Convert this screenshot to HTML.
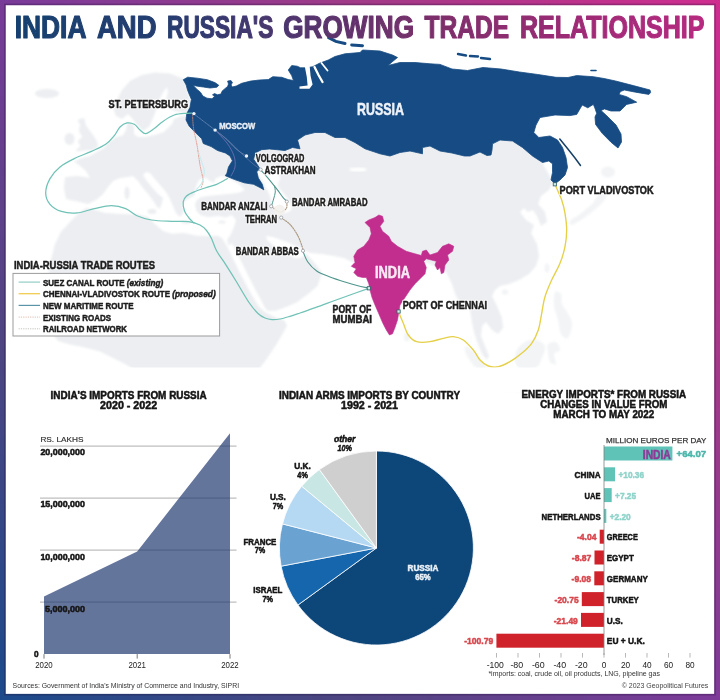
<!DOCTYPE html>
<html><head><meta charset="utf-8"><title>India and Russia's Growing Trade Relationship</title>
<style>
html,body{margin:0;padding:0;background:#fff;}
body{width:720px;height:700px;overflow:hidden;font-family:"Liberation Sans",sans-serif;}
svg{display:block;font-family:"Liberation Sans",sans-serif;}
</style></head><body>
<svg width="720" height="700" viewBox="0 0 720 700">
<defs>
<linearGradient id="gb" gradientUnits="userSpaceOnUse" x1="0" y1="700" x2="720" y2="0">
<stop offset="0" stop-color="#1b4a8b"/>
<stop offset="0.245" stop-color="#4d4581"/>
<stop offset="0.5" stop-color="#7b3b98"/>
<stop offset="0.745" stop-color="#a23a87"/>
<stop offset="1" stop-color="#cf2d8f"/>
</linearGradient>
<linearGradient id="gt" gradientUnits="userSpaceOnUse" x1="15" y1="0" x2="705" y2="0">
<stop offset="0" stop-color="#16416f"/>
<stop offset="0.22" stop-color="#263c70"/>
<stop offset="0.42" stop-color="#54356d"/>
<stop offset="0.62" stop-color="#7e2e6b"/>
<stop offset="0.8" stop-color="#9c2c75"/>
<stop offset="1" stop-color="#b62b80"/>
</linearGradient>
<filter id="blur1" x="-5%" y="-5%" width="110%" height="110%"><feGaussianBlur stdDeviation="0.9"/></filter>
<filter id="blur2" x="-5%" y="-5%" width="110%" height="110%"><feGaussianBlur stdDeviation="0.45"/></filter>
<filter id="soft" x="0" y="0" width="720" height="700" filterUnits="userSpaceOnUse"><feGaussianBlur stdDeviation="0.5"/></filter>
</defs>
<rect x="0" y="0" width="720" height="700" fill="url(#gb)"/>
<rect x="5.7" y="5.2" width="708.5" height="688.7" fill="#ffffff"/>
<rect x="4.9" y="4.4" width="710.1" height="690.3" fill="none" stroke="#1a0a30" stroke-opacity="0.27" stroke-width="1.6"/>
<g filter="url(#soft)">
<g id="land" fill="#eceef1" stroke="none" filter="url(#blur1)">
<ellipse cx="47" cy="93.5" rx="12" ry="4.6"/>
<path d="M78.0 120.0C78.7 118.9 82.7 117.7 84.0 118.5C85.3 119.3 85.0 122.9 86.0 125.0C87.0 127.1 88.5 128.8 90.0 131.0C91.5 133.2 93.7 135.7 95.0 138.0C96.3 140.3 98.2 143.1 98.0 145.0C97.8 146.9 96.3 148.6 94.0 149.5C91.7 150.4 87.0 150.2 84.0 150.5C81.0 150.8 76.7 151.8 76.0 151.0C75.3 150.2 79.7 147.7 80.0 146.0C80.3 144.3 77.7 142.5 78.0 141.0C78.3 139.5 81.8 138.7 82.0 137.0C82.2 135.3 79.3 133.0 79.0 131.0C78.7 129.0 80.2 126.8 80.0 125.0C79.8 123.2 77.3 121.1 78.0 120.0Z"/>
<ellipse cx="69.5" cy="139" rx="5" ry="6"/>
<polygon points="117.0,100.0 122.0,90.0 130.0,81.0 142.0,75.0 155.0,72.5 170.0,73.5 184.0,79.0 190.0,100.0 300.0,110.0 530.0,140.0 553.0,182.0 549.0,190.0 541.0,196.0 538.0,204.0 545.0,212.0 547.0,222.0 541.0,226.0 537.0,216.0 533.0,210.0 528.0,212.0 524.0,208.0 520.0,212.0 526.0,220.0 534.0,225.0 531.0,233.0 537.0,244.0 539.0,256.0 536.0,266.0 529.0,274.0 519.0,280.0 509.0,284.0 500.0,286.0 495.0,290.0 492.0,296.0 497.0,306.0 502.0,318.0 503.0,328.0 498.0,334.0 492.0,330.0 486.0,322.0 482.0,326.0 481.0,336.0 485.0,346.0 489.0,356.0 487.0,360.0 482.0,354.0 478.0,344.0 474.0,332.0 472.0,322.0 470.0,310.0 466.0,300.0 462.0,306.0 456.0,296.0 452.0,284.0 447.0,274.0 444.0,270.0 425.0,262.0 380.0,250.0 358.0,265.0 352.0,262.0 344.0,258.0 334.0,256.0 322.0,254.0 310.0,253.0 304.0,250.0 297.0,247.0 289.0,243.0 281.0,240.0 273.0,237.0 266.0,236.0 267.0,240.0 273.0,245.0 280.0,250.0 288.0,255.0 296.0,258.5 302.0,257.5 306.0,253.5 312.0,260.0 318.0,267.0 322.0,273.0 317.5,286.0 308.0,294.0 296.7,302.5 286.0,307.0 275.8,310.8 268.0,311.0 265.0,308.0 260.0,298.0 255.0,289.0 249.0,277.0 243.0,265.0 238.0,255.0 234.0,247.0 232.0,243.0 229.0,246.0 227.0,240.0 231.0,234.0 234.0,227.0 236.0,220.0 232.0,215.0 226.0,217.5 218.0,216.0 208.0,217.0 200.0,215.0 196.0,210.0 195.0,204.0 197.0,200.0 200.0,197.5 208.0,196.0 218.0,195.0 228.0,194.0 238.0,193.0 245.0,190.0 240.0,185.0 234.0,181.0 228.0,178.0 222.0,176.0 216.0,178.0 214.0,183.0 210.0,181.0 206.0,178.0 200.0,179.0 197.0,184.0 195.0,190.0 195.0,195.0 191.0,197.5 186.0,200.0 182.0,205.0 184.0,212.0 180.0,217.0 176.0,213.0 173.0,206.0 170.0,199.0 166.0,192.0 160.0,185.0 154.0,178.0 150.0,173.0 146.0,172.0 143.0,175.0 146.0,180.0 151.0,186.0 157.0,193.0 163.0,198.0 162.0,203.0 160.0,208.5 157.0,207.0 154.0,202.0 149.0,195.0 143.0,188.0 138.0,181.0 133.0,176.0 128.0,177.0 120.0,178.0 113.0,181.0 108.0,187.0 103.0,194.0 96.0,200.0 88.0,204.0 80.0,202.0 66.0,199.0 64.0,188.0 65.0,177.0 78.0,176.0 90.0,178.0 86.0,171.0 79.0,165.0 74.0,161.5 82.0,158.0 90.0,156.0 97.0,152.0 104.0,148.0 109.0,142.0 116.0,137.0 123.0,135.5 126.0,130.0 127.0,124.0 131.0,122.5 134.0,127.0 134.0,134.0 138.0,137.0 145.0,137.0 155.0,135.0 164.0,132.0 168.0,128.0 172.0,124.0 174.0,119.0 180.0,116.5 188.0,114.5 188.0,113.0 182.0,112.5 174.0,111.0 167.0,107.0 166.0,100.0 168.0,92.0 167.0,87.0 164.0,91.0 160.0,98.0 157.0,108.0 153.0,118.0 149.0,127.0 143.0,131.0 136.0,124.0 132.0,118.0 128.0,114.0 122.0,119.0 116.0,116.0 113.0,108.0"/>
<polygon points="61.0,231.7 70.0,222.0 78.0,214.0 86.0,208.0 92.0,209.0 105.0,213.0 122.0,214.0 138.0,214.5 148.0,217.0 155.0,224.0 163.0,231.0 171.7,233.8 184.0,233.0 196.7,235.8 208.0,236.0 217.5,235.8 222.0,238.0 225.8,244.0 230.0,252.0 234.0,260.8 240.0,273.0 246.7,285.8 253.0,297.0 259.0,306.7 265.0,312.0 271.7,315.5 278.0,318.5 284.0,320.0 287.0,325.5 282.5,334.0 276.0,345.0 267.0,358.5 260.0,367.8 258.0,380.0 140.0,380.0 135.0,370.0 125.0,364.0 112.0,357.5 100.0,351.5 85.0,347.5 70.0,344.5 58.0,341.0 52.0,333.0 48.0,321.0 46.0,305.0 46.0,290.0 48.0,276.0 50.8,260.8 55.0,244.0"/>
<ellipse cx="127" cy="193" rx="2.6" ry="6.5"/>
<ellipse cx="152" cy="211.5" rx="4.5" ry="2.4"/>
<ellipse cx="186" cy="222" rx="5" ry="1.6"/>
<ellipse cx="222" cy="222" rx="3.5" ry="1.6"/>
<g opacity="0.65">
<path d="M603.0 186.0C604.7 185.2 607.5 188.0 608.0 190.0C608.5 192.0 607.3 195.5 606.0 198.0C604.7 200.5 602.3 202.7 600.0 205.0C597.7 207.3 594.7 209.8 592.0 212.0C589.3 214.2 586.7 216.2 584.0 218.0C581.3 219.8 578.2 221.8 576.0 223.0C573.8 224.2 572.0 225.3 571.0 225.0C570.0 224.7 569.0 222.5 570.0 221.0C571.0 219.5 574.5 217.8 577.0 216.0C579.5 214.2 582.3 212.2 585.0 210.0C587.7 207.8 590.8 205.5 593.0 203.0C595.2 200.5 596.3 197.8 598.0 195.0C599.7 192.2 601.3 186.8 603.0 186.0Z"/>
<ellipse cx="608" cy="172" rx="7" ry="5.5"/>
<ellipse cx="547" cy="268" rx="2.4" ry="4.5"/>
<ellipse cx="505" cy="292" rx="3.5" ry="2.6"/>
<ellipse cx="407" cy="337" rx="3" ry="4.5"/>
<path d="M555.0 292.0C556.2 290.0 559.8 292.0 561.0 294.0C562.2 296.0 561.0 301.0 562.0 304.0C563.0 307.0 565.3 308.7 567.0 312.0C568.7 315.3 571.8 319.7 572.0 324.0C572.2 328.3 569.8 336.3 568.0 338.0C566.2 339.7 562.7 337.0 561.0 334.0C559.3 331.0 559.2 324.7 558.0 320.0C556.8 315.3 554.5 310.7 554.0 306.0C553.5 301.3 553.8 294.0 555.0 292.0Z"/>
<path d="M517.0 350.0C518.7 346.7 521.8 343.7 525.0 342.0C528.2 340.3 532.7 339.3 536.0 340.0C539.3 340.7 544.0 343.0 545.0 346.0C546.0 349.0 543.5 354.3 542.0 358.0C540.5 361.7 539.3 366.0 536.0 368.0C532.7 370.0 525.5 371.0 522.0 370.0C518.5 369.0 515.8 365.3 515.0 362.0C514.2 358.7 515.3 353.3 517.0 350.0Z"/>
<path d="M466.0 346.0C467.3 345.7 471.0 349.0 474.0 352.0C477.0 355.0 480.7 360.0 484.0 364.0C487.3 368.0 491.3 372.7 494.0 376.0C496.7 379.3 500.0 382.3 500.0 384.0C500.0 385.7 496.7 387.0 494.0 386.0C491.3 385.0 487.3 381.3 484.0 378.0C480.7 374.7 477.0 370.0 474.0 366.0C471.0 362.0 467.3 357.3 466.0 354.0C464.7 350.7 464.7 346.3 466.0 346.0Z"/>
<path d="M502.0 384.0C505.0 383.3 513.7 385.0 520.0 386.0C526.3 387.0 536.7 388.7 540.0 390.0C543.3 391.3 543.3 393.7 540.0 394.0C536.7 394.3 526.3 392.7 520.0 392.0C513.7 391.3 505.0 391.3 502.0 390.0C499.0 388.7 499.0 384.7 502.0 384.0Z"/>
<path d="M548.0 344.0C549.3 342.3 554.0 341.0 556.0 342.0C558.0 343.0 560.3 348.0 560.0 350.0C559.7 352.0 554.7 351.7 554.0 354.0C553.3 356.3 556.7 362.7 556.0 364.0C555.3 365.3 551.3 364.0 550.0 362.0C548.7 360.0 548.3 355.0 548.0 352.0C547.7 349.0 546.7 345.7 548.0 344.0Z"/>
</g>
</g>
<path d="M256.0 170.0C256.7 167.8 262.7 167.0 266.0 167.0C269.3 167.0 273.7 168.2 276.0 170.0C278.3 171.8 279.7 175.3 280.0 178.0C280.3 180.7 277.3 183.3 278.0 186.0C278.7 188.7 282.0 191.3 284.0 194.0C286.0 196.7 288.8 199.3 290.0 202.0C291.2 204.7 292.0 208.2 291.0 210.0C290.0 211.8 286.5 212.8 284.0 213.0C281.5 213.2 278.0 212.5 276.0 211.0C274.0 209.5 273.0 206.5 272.0 204.0C271.0 201.5 271.0 198.7 270.0 196.0C269.0 193.3 267.3 190.7 266.0 188.0C264.7 185.3 263.7 183.0 262.0 180.0C260.3 177.0 255.3 172.2 256.0 170.0Z" fill="#fff" filter="url(#blur1)"/>
<ellipse cx="358" cy="169.5" rx="9" ry="2" fill="#fff" filter="url(#blur1)"/>
<g filter="url(#blur2)">
<polygon points="183.3,79.7 187.7,77.2 197.4,78.2 207.2,79.7 214.9,82.6 218.8,85.3 216.9,87.2 210.0,88.0 203.3,87.0 197.4,86.2 193.0,85.3 196.8,89.2 200.6,92.4 202.8,96.0 207.0,98.2 212.0,98.8 214.5,96.6 212.5,94.8 214.5,93.6 217.5,94.8 221.0,94.0 222.0,91.3 224.6,88.9 227.6,86.5 228.5,84.0 227.6,81.1 231.0,80.6 232.4,82.6 231.0,85.0 232.4,87.0 236.3,86.0 241.7,83.3 250.6,81.1 259.4,80.0 268.3,79.6 272.8,76.7 281.7,77.3 288.3,79.6 293.5,80.5 291.7,75.6 288.3,70.0 291.7,65.6 297.2,66.2 300.6,67.8 306.0,67.8 312.8,66.7 319.4,63.3 328.3,60.0 335.0,56.5 345.0,53.8 360.0,52.5 362.5,50.0 380.0,51.0 392.5,55.0 397.5,57.5 392.0,62.0 388.0,65.5 396.0,63.5 400.0,62.5 415.0,62.5 430.0,63.8 440.0,64.4 452.0,69.0 467.5,70.5 483.0,67.5 501.0,69.0 519.4,72.0 537.8,74.5 556.0,77.3 568.0,77.5 576.7,75.6 593.3,76.7 604.0,78.5 615.6,81.0 633.3,85.6 650.0,90.0 650.6,92.5 648.9,94.4 635.6,92.2 624.4,90.0 620.5,91.5 618.9,94.4 626.7,96.7 636.7,102.2 626.7,104.4 620.0,111.0 611.0,111.0 604.4,108.9 601.0,110.5 607.0,116.0 616.0,125.0 621.0,134.0 621.5,142.0 618.0,148.0 611.0,142.2 602.2,133.3 595.6,124.4 595.0,117.0 596.7,113.3 594.5,107.0 593.3,104.4 587.8,107.8 582.2,105.0 576.7,114.4 570.0,115.6 555.0,115.0 540.0,117.5 536.0,125.0 533.8,132.5 538.8,137.5 550.0,136.0 557.5,140.0 562.5,147.5 566.0,157.5 567.5,167.5 565.0,175.0 560.0,180.0 555.0,183.8 551.0,180.0 552.5,172.5 552.5,163.8 548.8,161.0 542.5,162.5 532.5,156.0 522.5,147.5 512.5,141.0 500.0,140.0 492.5,143.8 492.0,150.0 491.0,155.0 487.0,155.5 480.0,152.0 470.0,156.0 464.4,156.0 452.0,153.0 440.0,151.0 430.0,146.0 422.5,147.5 422.5,153.8 410.0,151.0 400.0,152.5 390.0,156.0 380.0,153.8 365.0,148.8 355.0,142.5 345.0,137.5 335.0,137.5 325.0,132.5 315.0,132.5 305.0,135.0 297.5,140.0 300.0,148.8 292.5,147.5 285.0,150.5 277.2,149.7 269.3,149.0 261.5,149.7 255.2,152.9 253.6,159.2 256.8,163.9 259.9,168.6 256.8,171.8 258.3,178.0 262.3,184.3 263.8,189.8 259.9,187.5 253.6,184.3 244.2,182.8 234.7,179.6 225.3,175.7 226.9,173.3 228.5,167.0 232.4,160.8 230.0,156.0 225.3,152.9 217.5,150.5 211.2,146.6 203.3,143.5 201.7,138.7 195.4,132.5 189.2,126.2 186.0,119.9 186.8,113.6 190.0,107.3 191.4,99.4 189.5,95.0 187.5,90.0 186.2,85.0" fill="#154b83" stroke="#154b83" stroke-width="0.8" stroke-linejoin="round"/>
<path d="M328.6 37.6L335.8 41.4L345 43.5M351.7 44.9L362.5 45.7" stroke="#154b83" stroke-width="3" fill="none" stroke-linecap="round"/>
<path d="M458 54l8 1.5M470 56l8 0.5M481 58l9 1" stroke="#154b83" stroke-width="2.4" fill="none" stroke-linecap="round"/>
<path d="M591 70.5l5 0" stroke="#154b83" stroke-width="1.6" fill="none" stroke-linecap="round"/>
<path d="M559.8 139L567.5 148.5L575 158L580.5 165.5" stroke="#173f66" stroke-width="1.5" fill="none" stroke-linecap="round"/>
<polygon points="304.6,65.5 309.6,65.5 310.6,76 312.6,84.5 309.5,88.8 299.5,88.8 299.5,86.4 307.6,85.6 306.8,77" fill="#fff"/>
<path d="M314.5 67L318.5 75L322.5 82" stroke="#fff" stroke-width="2.3" fill="none" stroke-linecap="round"/>
<path d="M321.5 63L327.5 70.5" stroke="#fff" stroke-width="1.8" fill="none" stroke-linecap="round"/>
</g>
<g filter="url(#blur2)">
<polygon points="378.8,215.0 382.5,216.3 383.8,221.3 380.0,226.3 382.5,231.3 388.8,236.3 391.3,241.3 397.5,246.3 406.3,251.3 415.0,253.8 421.3,255.5 422.5,251.3 426.3,250.0 430.0,255.0 437.5,252.5 442.5,246.3 448.8,243.8 453.8,246.3 452.5,251.3 447.5,255.0 448.8,260.0 445.0,265.0 443.8,272.5 441.3,273.8 440.0,267.5 437.5,270.0 435.0,265.0 436.3,261.3 431.3,260.0 426.3,258.8 423.8,261.3 426.3,267.5 425.0,273.8 420.0,278.8 415.0,283.8 410.0,290.0 405.0,297.5 400.0,305.0 398.8,312.5 397.5,320.0 395.0,327.5 392.5,333.8 389.5,335.0 386.3,330.0 382.5,322.5 378.8,313.8 375.0,305.0 372.0,297.5 370.0,290.0 368.8,283.8 366.3,277.5 362.5,277.5 357.5,276.3 353.8,272.5 356.3,268.8 351.3,266.3 355.0,262.5 353.8,256.3 357.5,250.0 363.8,246.3 368.8,240.0 371.3,233.8 370.0,227.5 365.0,222.5 368.8,220.0 375.0,217.5" fill="#c12f8e" stroke="#c12f8e" stroke-width="0.6" stroke-linejoin="round"/>
</g>
<g fill="none" stroke-linecap="round" stroke-linejoin="round">
<path d="M191.5 113.0C190.7 113.0 189.6 113.0 186.7 113.3C183.8 113.6 178.3 113.7 174.3 115.0C170.3 116.3 166.2 119.1 162.9 121.4C159.6 123.7 157.2 126.5 154.3 128.6C151.4 130.6 148.1 133.5 145.7 133.7C143.3 133.9 141.9 131.6 140.0 130.0C138.1 128.4 136.5 125.5 134.3 124.3C132.1 123.1 129.4 122.5 127.0 122.9C124.6 123.4 122.1 124.9 120.0 127.0C117.9 129.1 116.7 132.8 114.3 135.7C111.9 138.6 109.5 141.7 105.7 144.3C101.9 146.9 96.6 149.0 91.4 151.4C86.2 153.8 79.5 156.0 74.3 158.6C69.1 161.2 64.0 163.7 60.0 167.0C56.0 170.3 52.4 174.3 50.0 178.6C47.6 182.9 45.7 188.6 45.7 192.9C45.7 197.2 47.4 201.2 50.0 204.3C52.6 207.4 56.9 210.0 61.4 211.4C65.9 212.8 71.5 213.4 77.0 212.9C82.5 212.4 88.6 209.8 94.3 208.6C100.0 207.4 106.2 205.7 111.4 205.7C116.6 205.7 121.4 206.9 125.7 208.6C130.0 210.3 132.7 213.8 137.0 215.7C141.3 217.6 145.7 219.1 151.4 220.0C157.1 220.9 165.2 221.1 171.4 221.4C177.6 221.7 183.8 221.0 188.6 221.6C193.4 222.2 197.0 223.5 200.0 225.0C203.0 226.5 204.6 228.2 206.5 230.5C208.4 232.8 209.8 235.1 211.5 238.5C213.2 241.9 214.3 246.7 216.7 251.0C219.0 255.3 222.4 259.4 225.6 264.4C228.8 269.4 232.1 274.6 236.0 281.0C239.9 287.4 245.3 297.1 249.0 302.5C252.7 307.9 255.3 310.9 258.0 313.5C260.7 316.1 262.7 317.0 265.0 318.0C267.3 319.0 269.5 319.4 272.0 319.6C274.5 319.8 277.2 319.5 280.0 319.0C282.8 318.5 285.7 317.6 289.0 316.6C292.3 315.6 295.5 314.5 300.0 313.0C304.5 311.5 310.4 309.4 316.0 307.4C321.6 305.4 327.6 303.1 333.3 301.0C339.0 298.9 344.2 297.1 350.0 295.0C355.8 292.9 365.0 289.7 368.0 288.6" stroke="#6fc2b6" stroke-width="1.25"/>
<path d="M227.5 178.5C225.7 179.5 220.4 182.8 216.7 184.4C212.9 186.0 208.6 186.8 205.0 188.0C201.4 189.2 198.1 190.2 195.0 191.5C191.9 192.8 188.5 194.2 186.5 196.0C184.5 197.8 183.5 199.5 183.2 202.0C182.9 204.5 183.5 208.3 184.5 211.0C185.5 213.7 187.4 216.0 189.0 218.0C190.6 220.0 193.2 222.2 194.0 223.0" stroke="#6fc2b6" stroke-width="1.25"/>
<path d="M260.7 170.0C261.9 171.3 265.1 174.7 267.8 177.8C270.5 181.0 274.1 185.6 276.7 188.9C279.3 192.2 281.6 195.8 283.3 197.8C285.0 199.8 286.1 200.5 286.7 201.0" stroke="#4f968d" stroke-width="1.1"/>
<path d="M274.5 186.0C274.6 187.0 275.4 189.8 275.3 192.0C275.2 194.2 274.2 196.7 273.6 199.0C273.0 201.3 271.9 204.5 271.6 205.6" stroke="#4f968d" stroke-width="1.0"/>
<path d="M303.0 251.5C303.8 253.2 305.5 258.8 307.8 262.0C310.1 265.2 313.0 268.5 316.7 271.0C320.4 273.5 325.3 275.2 330.0 277.0C334.7 278.8 340.5 280.6 345.0 282.0C349.5 283.4 353.2 284.5 357.0 285.5C360.8 286.5 366.2 287.6 368.0 288.0" stroke="#4f968d" stroke-width="1.1"/>
<path d="M398.6 312.0C399.4 313.9 401.7 319.5 403.3 323.3C404.9 327.1 406.1 331.9 408.3 335.0C410.5 338.1 413.1 340.6 416.7 341.7C420.3 342.8 425.6 342.3 430.0 341.7C434.4 341.1 439.4 339.1 443.3 338.3C447.2 337.5 450.0 336.4 453.3 336.7C456.6 337.0 460.0 337.8 463.3 340.0C466.6 342.2 470.5 346.7 473.3 350.0C476.1 353.3 477.5 357.3 480.0 360.0C482.5 362.7 485.2 364.9 488.3 366.0C491.4 367.1 494.7 367.4 498.3 366.7C501.9 366.0 506.1 363.9 510.0 361.7C513.9 359.5 518.1 356.4 521.7 353.3C525.3 350.2 528.9 347.2 531.7 343.3C534.5 339.4 536.6 335.0 538.3 330.0C540.0 325.0 540.6 318.9 541.7 313.3C542.8 307.8 543.3 302.2 545.0 296.7C546.7 291.1 549.2 285.6 551.7 280.0C554.2 274.4 557.8 268.9 560.0 263.3C562.2 257.8 563.9 252.2 565.0 246.7C566.1 241.1 566.7 235.6 566.7 230.0C566.7 224.4 565.8 218.3 565.0 213.3C564.2 208.3 563.1 204.2 561.7 200.0C560.3 195.8 557.8 191.0 556.7 188.3C555.6 185.6 555.3 184.7 555.0 184.0" stroke="#e6d048" stroke-width="1.35"/>
<path d="M192.5 115.0C192.7 117.2 192.8 123.0 193.5 128.0C194.2 133.0 195.9 138.8 197.0 145.0C198.1 151.2 199.0 159.2 200.0 165.0C201.0 170.8 202.8 176.2 203.0 180.0C203.2 183.8 201.3 186.7 201.0 188.0" stroke="#e08a7a" stroke-width="0.8" stroke-dasharray="1.2 1.2"/>
<path d="M198.9 153.3C199.4 154.9 201.1 160.1 202.0 163.0C202.9 165.9 204.2 168.3 204.4 171.0C204.6 173.7 203.6 176.8 203.0 179.0C202.4 181.2 202.2 182.6 201.0 184.4C199.8 186.2 196.8 189.1 196.0 190.0" stroke="#c9ecf0" stroke-width="1.1"/>
<path d="M194 114L215 130" stroke="#7d97c0" stroke-width="0.7" stroke-dasharray="1 1"/>
<path d="M215.0 130.0C216.7 131.3 221.5 134.8 225.0 138.0C228.5 141.2 232.4 146.0 236.0 149.0C239.6 152.0 244.8 154.8 246.5 156.0" stroke="#6f86b4" stroke-width="0.7"/>
<path d="M215.0 130.0C217.0 132.2 223.8 138.7 227.0 143.0C230.2 147.3 232.7 152.0 234.0 156.0C235.3 160.0 235.5 163.7 235.0 167.0C234.5 170.3 231.7 174.5 231.0 176.0" stroke="#6a6fb0" stroke-width="0.9"/>
<path d="M215.0 130.0C217.3 131.8 224.7 137.2 229.0 141.0C233.3 144.8 237.2 149.3 241.0 153.0C244.8 156.7 248.8 160.2 252.0 163.0C255.2 165.8 259.1 168.4 260.5 169.5" stroke="#7083b0" stroke-width="0.6"/>
<path d="M272.0 206.5C272.7 207.1 274.5 209.1 276.0 210.0C277.5 210.9 279.2 212.3 281.0 212.0C282.8 211.7 285.6 209.7 286.5 208.0C287.4 206.3 286.7 203.0 286.7 202.0" stroke="#a8967e" stroke-width="1.1" stroke-dasharray="1.3 1.2"/>
<path d="M281.5 218.0C282.9 219.1 287.3 221.5 290.0 224.4C292.7 227.3 295.8 231.9 297.8 235.6C299.8 239.3 301.3 244.2 302.2 246.7C303.1 249.2 302.9 249.9 303.0 250.5" stroke="#a8967e" stroke-width="1.1" stroke-dasharray="1.3 1.2"/>
</g>
<circle cx="279.5" cy="210" r="5.5" fill="#f3f1ec" opacity="0.9"/>
<circle cx="193.9" cy="113.6" r="1.7" fill="#eef4fb"/>
<circle cx="215.1" cy="130.1" r="1.7" fill="#eef4fb"/>
<circle cx="246.5" cy="156.0" r="1.7" fill="#eef4fb"/>
<circle cx="260.7" cy="169.6" r="1.6" fill="#fff" stroke="#8a8f94" stroke-width="0.7"/>
<circle cx="271.2" cy="206.3" r="1.6" fill="#fff" stroke="#8a8f94" stroke-width="0.7"/>
<circle cx="281.2" cy="217.6" r="1.6" fill="#fff" stroke="#8a8f94" stroke-width="0.7"/>
<circle cx="286.8" cy="201.6" r="1.6" fill="#fff" stroke="#8a8f94" stroke-width="0.7"/>
<circle cx="303.0" cy="250.8" r="1.6" fill="#fff" stroke="#8a8f94" stroke-width="0.7"/>
<rect x="367.2" y="286.7" width="3.2" height="3.2" fill="#cfeee8" stroke="#2f5d66" stroke-width="0.8"/>
<rect x="397.0" y="309.9" width="3.2" height="3.2" fill="#cfeee8" stroke="#2f5d66" stroke-width="0.8"/>
<rect x="553.2" y="182.7" width="3.2" height="3.2" fill="#cfeee8" stroke="#2f5d66" stroke-width="0.8"/>
<text x="357.0" y="115.0" font-size="16.37" font-weight="bold" fill="#eef3fa" stroke="#eef3fa" stroke-width="0.50" stroke-linejoin="round" textLength="47.0" lengthAdjust="spacingAndGlyphs" >RUSSIA</text>
<text x="219.2" y="129.4" font-size="9.84" font-weight="bold" fill="#eaf0f8" stroke="#eaf0f8" stroke-width="0.50" stroke-linejoin="round" textLength="36.0" lengthAdjust="spacingAndGlyphs" >MOSCOW</text>
<text x="375.0" y="278.0" font-size="15.62" font-weight="bold" fill="#fbeaf5" stroke="#fbeaf5" stroke-width="0.50" stroke-linejoin="round" textLength="35.0" lengthAdjust="spacingAndGlyphs" >INDIA</text>
<text x="108.6" y="107.6" font-size="10.91" font-weight="bold" fill="#fff" stroke="#fff" stroke-width="2.4" stroke-linejoin="round" opacity="0.92" textLength="79.5" lengthAdjust="spacingAndGlyphs">ST. PETERSBURG</text>
<text x="108.6" y="107.6" font-size="10.91" font-weight="bold" fill="#1c1c1c" stroke="#1c1c1c" stroke-width="0.50" stroke-linejoin="round" textLength="79.5" lengthAdjust="spacingAndGlyphs" >ST. PETERSBURG</text>
<text x="255.8" y="162.0" font-size="10.27" font-weight="bold" fill="#fff" stroke="#fff" stroke-width="2.4" stroke-linejoin="round" opacity="0.92" textLength="48.6" lengthAdjust="spacingAndGlyphs">VOLGOGRAD</text>
<text x="255.8" y="162.0" font-size="10.27" font-weight="bold" fill="#1c1c1c" stroke="#1c1c1c" stroke-width="0.50" stroke-linejoin="round" textLength="48.6" lengthAdjust="spacingAndGlyphs" >VOLGOGRAD</text>
<text x="264.6" y="173.8" font-size="10.27" font-weight="bold" fill="#fff" stroke="#fff" stroke-width="2.4" stroke-linejoin="round" opacity="0.92" textLength="51.0" lengthAdjust="spacingAndGlyphs">ASTRAKHAN</text>
<text x="264.6" y="173.8" font-size="10.27" font-weight="bold" fill="#1c1c1c" stroke="#1c1c1c" stroke-width="0.50" stroke-linejoin="round" textLength="51.0" lengthAdjust="spacingAndGlyphs" >ASTRAKHAN</text>
<text x="201.2" y="210.0" font-size="10.27" font-weight="bold" fill="#fff" stroke="#fff" stroke-width="2.4" stroke-linejoin="round" opacity="0.92" textLength="66.4" lengthAdjust="spacingAndGlyphs">BANDAR ANZALI</text>
<text x="201.2" y="210.0" font-size="10.27" font-weight="bold" fill="#1c1c1c" stroke="#1c1c1c" stroke-width="0.50" stroke-linejoin="round" textLength="66.4" lengthAdjust="spacingAndGlyphs" >BANDAR ANZALI</text>
<text x="292.0" y="205.6" font-size="10.27" font-weight="bold" fill="#fff" stroke="#fff" stroke-width="2.4" stroke-linejoin="round" opacity="0.92" textLength="75.5" lengthAdjust="spacingAndGlyphs">BANDAR AMRABAD</text>
<text x="292.0" y="205.6" font-size="10.27" font-weight="bold" fill="#1c1c1c" stroke="#1c1c1c" stroke-width="0.50" stroke-linejoin="round" textLength="75.5" lengthAdjust="spacingAndGlyphs" >BANDAR AMRABAD</text>
<text x="245.2" y="223.4" font-size="10.27" font-weight="bold" fill="#fff" stroke="#fff" stroke-width="2.4" stroke-linejoin="round" opacity="0.92" textLength="31.8" lengthAdjust="spacingAndGlyphs">TEHRAN</text>
<text x="245.2" y="223.4" font-size="10.27" font-weight="bold" fill="#1c1c1c" stroke="#1c1c1c" stroke-width="0.50" stroke-linejoin="round" textLength="31.8" lengthAdjust="spacingAndGlyphs" >TEHRAN</text>
<text x="235.8" y="254.8" font-size="10.27" font-weight="bold" fill="#fff" stroke="#fff" stroke-width="2.4" stroke-linejoin="round" opacity="0.92" textLength="63.0" lengthAdjust="spacingAndGlyphs">BANDAR ABBAS</text>
<text x="235.8" y="254.8" font-size="10.27" font-weight="bold" fill="#1c1c1c" stroke="#1c1c1c" stroke-width="0.50" stroke-linejoin="round" textLength="63.0" lengthAdjust="spacingAndGlyphs" >BANDAR ABBAS</text>
<text x="332.6" y="313.4" font-size="10.49" font-weight="bold" fill="#fff" stroke="#fff" stroke-width="2.4" stroke-linejoin="round" opacity="0.92" textLength="38.6" lengthAdjust="spacingAndGlyphs">PORT OF</text>
<text x="332.6" y="313.4" font-size="10.49" font-weight="bold" fill="#1c1c1c" stroke="#1c1c1c" stroke-width="0.50" stroke-linejoin="round" textLength="38.6" lengthAdjust="spacingAndGlyphs" >PORT OF</text>
<text x="332.6" y="323.4" font-size="10.49" font-weight="bold" fill="#fff" stroke="#fff" stroke-width="2.4" stroke-linejoin="round" opacity="0.92" textLength="39.4" lengthAdjust="spacingAndGlyphs">MUMBAI</text>
<text x="332.6" y="323.4" font-size="10.49" font-weight="bold" fill="#1c1c1c" stroke="#1c1c1c" stroke-width="0.50" stroke-linejoin="round" textLength="39.4" lengthAdjust="spacingAndGlyphs" >MUMBAI</text>
<text x="402.8" y="309.4" font-size="10.49" font-weight="bold" fill="#fff" stroke="#fff" stroke-width="2.4" stroke-linejoin="round" opacity="0.92" textLength="84.2" lengthAdjust="spacingAndGlyphs">PORT OF CHENNAI</text>
<text x="402.8" y="309.4" font-size="10.49" font-weight="bold" fill="#1c1c1c" stroke="#1c1c1c" stroke-width="0.50" stroke-linejoin="round" textLength="84.2" lengthAdjust="spacingAndGlyphs" >PORT OF CHENNAI</text>
<text x="559.6" y="194.2" font-size="10.49" font-weight="bold" fill="#fff" stroke="#fff" stroke-width="2.4" stroke-linejoin="round" opacity="0.92" textLength="94.0" lengthAdjust="spacingAndGlyphs">PORT VLADIVOSTOK</text>
<text x="559.6" y="194.2" font-size="10.49" font-weight="bold" fill="#1c1c1c" stroke="#1c1c1c" stroke-width="0.50" stroke-linejoin="round" textLength="94.0" lengthAdjust="spacingAndGlyphs" >PORT VLADIVOSTOK</text>
<text x="14.0" y="269.4" font-size="11.56" font-weight="bold" fill="#1c1c1c" stroke="#1c1c1c" stroke-width="0.50" stroke-linejoin="round" textLength="141.0" lengthAdjust="spacingAndGlyphs" >INDIA-RUSSIA TRADE ROUTES</text>
<rect x="13" y="273.4" width="206.6" height="62.6" fill="#fff" stroke="#9b9b9b" stroke-width="1"/>
<path d="M18.6 282.1H40" stroke="#94cdc6" stroke-width="1.2"/>
<path d="M18.6 293.7H40" stroke="#efcd52" stroke-width="1.3"/>
<path d="M18.6 305.4H40" stroke="#5a94a6" stroke-width="1.2"/>
<path d="M18.6 317.1H40" stroke="#d9b5a4" stroke-width="0.9" stroke-dasharray="1.2 1.1"/>
<path d="M18.6 328.8H40" stroke="#bdbdb5" stroke-width="0.9" stroke-dasharray="1.2 1.1"/>
<text x="43.0" y="285.6" font-size="9.63" font-weight="bold" fill="#1c1c1c" stroke="#1c1c1c" stroke-width="0.50" stroke-linejoin="round" textLength="81.5" lengthAdjust="spacingAndGlyphs" >SUEZ CANAL ROUTE</text>
<text x="126.7" y="285.6" font-size="9.63" font-weight="bold" fill="#1c1c1c" stroke="#1c1c1c" stroke-width="0.50" stroke-linejoin="round" textLength="36.5" lengthAdjust="spacingAndGlyphs" font-style="italic" >(existing)</text>
<text x="43.0" y="297.2" font-size="9.63" font-weight="bold" fill="#1c1c1c" stroke="#1c1c1c" stroke-width="0.50" stroke-linejoin="round" textLength="127.0" lengthAdjust="spacingAndGlyphs" >CHENNAI-VLADIVOSTOK ROUTE</text>
<text x="172.2" y="297.2" font-size="9.63" font-weight="bold" fill="#1c1c1c" stroke="#1c1c1c" stroke-width="0.50" stroke-linejoin="round" textLength="43.5" lengthAdjust="spacingAndGlyphs" font-style="italic" >(proposed)</text>
<text x="43.0" y="308.9" font-size="9.63" font-weight="bold" fill="#1c1c1c" stroke="#1c1c1c" stroke-width="0.50" stroke-linejoin="round" textLength="90.5" lengthAdjust="spacingAndGlyphs" >NEW MARITIME ROUTE</text>
<text x="43.0" y="320.6" font-size="9.63" font-weight="bold" fill="#1c1c1c" stroke="#1c1c1c" stroke-width="0.50" stroke-linejoin="round" textLength="68.0" lengthAdjust="spacingAndGlyphs" >EXISTING ROADS</text>
<text x="43.0" y="332.3" font-size="9.63" font-weight="bold" fill="#1c1c1c" stroke="#1c1c1c" stroke-width="0.50" stroke-linejoin="round" textLength="84.0" lengthAdjust="spacingAndGlyphs" >RAILROAD NETWORK</text>
<text x="14.8" y="37.5" font-size="31.3" font-weight="bold" fill="url(#gt)" stroke="url(#gt)" stroke-width="1.2" stroke-linejoin="round" textLength="71.6" lengthAdjust="spacingAndGlyphs">INDIA</text>
<text x="97.0" y="37.5" font-size="31.3" font-weight="bold" fill="url(#gt)" stroke="url(#gt)" stroke-width="1.2" stroke-linejoin="round" textLength="59.5" lengthAdjust="spacingAndGlyphs">AND</text>
<text x="167.0" y="37.5" font-size="31.3" font-weight="bold" fill="url(#gt)" stroke="url(#gt)" stroke-width="1.2" stroke-linejoin="round" textLength="106.4" lengthAdjust="spacingAndGlyphs">RUSSIA&#39;S</text>
<text x="283.2" y="37.5" font-size="31.3" font-weight="bold" fill="url(#gt)" stroke="url(#gt)" stroke-width="1.2" stroke-linejoin="round" textLength="130.8" lengthAdjust="spacingAndGlyphs">GROWING</text>
<text x="424.6" y="37.5" font-size="31.3" font-weight="bold" fill="url(#gt)" stroke="url(#gt)" stroke-width="1.2" stroke-linejoin="round" textLength="84.4" lengthAdjust="spacingAndGlyphs">TRADE</text>
<text x="520.0" y="37.5" font-size="31.3" font-weight="bold" fill="url(#gt)" stroke="url(#gt)" stroke-width="1.2" stroke-linejoin="round" textLength="184.4" lengthAdjust="spacingAndGlyphs">RELATIONSHIP</text>
<rect x="6" y="367.5" width="708" height="25" fill="#fff"/>
<text x="128.6" y="398.6" font-size="10.27" font-weight="bold" fill="#141414" stroke="#141414" stroke-width="0.50" stroke-linejoin="round" text-anchor="middle" textLength="156.0" lengthAdjust="spacingAndGlyphs" >INDIA&#39;S IMPORTS FROM RUSSIA</text>
<text x="128.6" y="409.0" font-size="10.27" font-weight="bold" fill="#141414" stroke="#141414" stroke-width="0.50" stroke-linejoin="round" text-anchor="middle" textLength="57.0" lengthAdjust="spacingAndGlyphs" >2020 - 2022</text>
<text x="40.4" y="442.4" font-size="8.00" font-weight="normal" fill="#333" stroke="#333" stroke-width="0.20" stroke-linejoin="round" textLength="43.0" lengthAdjust="spacingAndGlyphs" >RS. LAKHS</text>
<path d="M40 602.1H236.5" stroke="#9a9a9a" stroke-width="0.8"/>
<path d="M40 550.1H236.5" stroke="#9a9a9a" stroke-width="0.8"/>
<path d="M40 498.1H236.5" stroke="#9a9a9a" stroke-width="0.8"/>
<path d="M40 446.1H236.5" stroke="#9a9a9a" stroke-width="0.8"/>
<polygon points="44.0,654.1 44.0,596.6 137.2,551.4 230.0,433.2 230.0,654.1" fill="#243a73" fill-opacity="0.705"/>
<path d="M44.0 654.1v4.5" stroke="#555" stroke-width="0.8"/>
<path d="M137.2 654.1v4.5" stroke="#555" stroke-width="0.8"/>
<path d="M230.0 654.1v4.5" stroke="#555" stroke-width="0.8"/>
<text x="40.4" y="455.1" font-size="9.20" font-weight="bold" fill="#141414" stroke="#141414" stroke-width="0.50" stroke-linejoin="round" textLength="44.5" lengthAdjust="spacingAndGlyphs" >20,000,000</text>
<text x="40.4" y="507.3" font-size="9.20" font-weight="bold" fill="#141414" stroke="#141414" stroke-width="0.50" stroke-linejoin="round" textLength="44.5" lengthAdjust="spacingAndGlyphs" >15,000,000</text>
<text x="40.4" y="559.5" font-size="9.20" font-weight="bold" fill="#141414" stroke="#141414" stroke-width="0.50" stroke-linejoin="round" textLength="44.5" lengthAdjust="spacingAndGlyphs" >10,000,000</text>
<text x="45.0" y="612.1" font-size="9.20" font-weight="bold" fill="#141414" stroke="#141414" stroke-width="0.50" stroke-linejoin="round" textLength="40.0" lengthAdjust="spacingAndGlyphs" >5,000,000</text>
<text x="34.0" y="656.6" font-size="9.20" font-weight="bold" fill="#141414" stroke="#141414" stroke-width="0.50" stroke-linejoin="round" textLength="4.6" lengthAdjust="spacingAndGlyphs" >0</text>
<text x="44.0" y="668.0" font-size="8.40" font-weight="normal" fill="#222" text-anchor="middle" textLength="17.5" lengthAdjust="spacingAndGlyphs" >2020</text>
<text x="137.2" y="668.0" font-size="8.40" font-weight="normal" fill="#222" text-anchor="middle" textLength="17.5" lengthAdjust="spacingAndGlyphs" >2021</text>
<text x="230.0" y="668.0" font-size="8.40" font-weight="normal" fill="#222" text-anchor="middle" textLength="17.5" lengthAdjust="spacingAndGlyphs" >2022</text>
<text x="12.6" y="688.4" font-size="6.60" font-weight="normal" fill="#333" textLength="226.5" lengthAdjust="spacingAndGlyphs" >Sources: Government of India&#39;s Ministry of Commerce and Industry, SIPRI</text>
<text x="369.5" y="398.6" font-size="10.27" font-weight="bold" fill="#141414" stroke="#141414" stroke-width="0.50" stroke-linejoin="round" text-anchor="middle" textLength="181.0" lengthAdjust="spacingAndGlyphs" >INDIAN ARMS IMPORTS BY COUNTRY</text>
<text x="369.5" y="409.0" font-size="10.27" font-weight="bold" fill="#141414" stroke="#141414" stroke-width="0.50" stroke-linejoin="round" text-anchor="middle" textLength="57.0" lengthAdjust="spacingAndGlyphs" >1992 - 2021</text>
<path d="M376.40 548.00L376.40 451.00A97.0 97.0 0 1 1 297.93 605.02Z" fill="#0f4679" stroke="#fff" stroke-width="0.8" stroke-linejoin="round"/>
<path d="M376.40 548.00L297.93 605.02A97.0 97.0 0 0 1 281.12 566.18Z" fill="#1766ae" stroke="#fff" stroke-width="0.8" stroke-linejoin="round"/>
<path d="M376.40 548.00L281.12 566.18A97.0 97.0 0 0 1 282.45 523.88Z" fill="#6ba3d1" stroke="#fff" stroke-width="0.8" stroke-linejoin="round"/>
<path d="M376.40 548.00L282.45 523.88A97.0 97.0 0 0 1 301.66 486.17Z" fill="#b5d8f3" stroke="#fff" stroke-width="0.8" stroke-linejoin="round"/>
<path d="M376.40 548.00L301.66 486.17A97.0 97.0 0 0 1 319.38 469.53Z" fill="#c7e6e4" stroke="#fff" stroke-width="0.8" stroke-linejoin="round"/>
<path d="M376.40 548.00L319.38 469.53A97.0 97.0 0 0 1 376.40 451.00Z" fill="#cfcfcf" stroke="#fff" stroke-width="0.8" stroke-linejoin="round"/>
<text x="423.0" y="571.4" font-size="9.20" font-weight="bold" fill="#eaf1f9" stroke="#eaf1f9" stroke-width="0.50" stroke-linejoin="round" text-anchor="middle" textLength="31.0" lengthAdjust="spacingAndGlyphs" >RUSSIA</text>
<text x="423.0" y="580.2" font-size="9.20" font-weight="bold" fill="#eaf1f9" stroke="#eaf1f9" stroke-width="0.50" stroke-linejoin="round" text-anchor="middle" textLength="15.5" lengthAdjust="spacingAndGlyphs" >65%</text>
<text x="267.8" y="592.8" font-size="9.20" font-weight="bold" fill="#141414" stroke="#141414" stroke-width="0.50" stroke-linejoin="round" text-anchor="middle" textLength="29.0" lengthAdjust="spacingAndGlyphs" >ISRAEL</text>
<text x="267.8" y="601.6" font-size="9.20" font-weight="bold" fill="#141414" stroke="#141414" stroke-width="0.50" stroke-linejoin="round" text-anchor="middle" textLength="10.5" lengthAdjust="spacingAndGlyphs" >7%</text>
<text x="259.9" y="544.6" font-size="9.20" font-weight="bold" fill="#141414" stroke="#141414" stroke-width="0.50" stroke-linejoin="round" text-anchor="middle" textLength="33.0" lengthAdjust="spacingAndGlyphs" >FRANCE</text>
<text x="259.9" y="553.4" font-size="9.20" font-weight="bold" fill="#141414" stroke="#141414" stroke-width="0.50" stroke-linejoin="round" text-anchor="middle" textLength="10.5" lengthAdjust="spacingAndGlyphs" >7%</text>
<text x="277.9" y="500.2" font-size="9.20" font-weight="bold" fill="#141414" stroke="#141414" stroke-width="0.50" stroke-linejoin="round" text-anchor="middle" textLength="16.0" lengthAdjust="spacingAndGlyphs" >U.S.</text>
<text x="277.9" y="509.0" font-size="9.20" font-weight="bold" fill="#141414" stroke="#141414" stroke-width="0.50" stroke-linejoin="round" text-anchor="middle" textLength="10.5" lengthAdjust="spacingAndGlyphs" >7%</text>
<text x="302.6" y="468.8" font-size="9.20" font-weight="bold" fill="#141414" stroke="#141414" stroke-width="0.50" stroke-linejoin="round" text-anchor="middle" textLength="16.5" lengthAdjust="spacingAndGlyphs" >U.K.</text>
<text x="302.6" y="477.6" font-size="9.20" font-weight="bold" fill="#141414" stroke="#141414" stroke-width="0.50" stroke-linejoin="round" text-anchor="middle" textLength="10.5" lengthAdjust="spacingAndGlyphs" >4%</text>
<text x="344.7" y="442.4" font-size="9.20" font-weight="bold" fill="#141414" stroke="#141414" stroke-width="0.50" stroke-linejoin="round" text-anchor="middle" textLength="21.5" lengthAdjust="spacingAndGlyphs" font-style="italic" >other</text>
<text x="344.7" y="451.2" font-size="9.20" font-weight="bold" fill="#141414" stroke="#141414" stroke-width="0.50" stroke-linejoin="round" text-anchor="middle" textLength="14.5" lengthAdjust="spacingAndGlyphs" font-style="italic" >10%</text>
<text x="603.8" y="397.8" font-size="10.27" font-weight="bold" fill="#141414" stroke="#141414" stroke-width="0.50" stroke-linejoin="round" text-anchor="middle" textLength="164.5" lengthAdjust="spacingAndGlyphs" >ENERGY IMPORTS* FROM RUSSIA</text>
<text x="603.8" y="408.0" font-size="10.27" font-weight="bold" fill="#141414" stroke="#141414" stroke-width="0.50" stroke-linejoin="round" text-anchor="middle" textLength="127.0" lengthAdjust="spacingAndGlyphs" >CHANGES IN VALUE FROM</text>
<text x="603.8" y="418.2" font-size="10.27" font-weight="bold" fill="#141414" stroke="#141414" stroke-width="0.50" stroke-linejoin="round" text-anchor="middle" textLength="101.0" lengthAdjust="spacingAndGlyphs" >MARCH TO MAY 2022</text>
<text x="606.0" y="443.0" font-size="8.00" font-weight="normal" fill="#333" stroke="#333" stroke-width="0.25" stroke-linejoin="round" textLength="100.5" lengthAdjust="spacingAndGlyphs" >MILLION EUROS PER DAY</text>
<rect x="604.0" y="446.5" width="68.4" height="14.0" fill="#5ec3b8"/>
<text x="670.8" y="458.5" font-size="11.98" font-weight="bold" fill="#8d3a96" stroke="#8d3a96" stroke-width="0.50" stroke-linejoin="round" text-anchor="end" textLength="28.0" lengthAdjust="spacingAndGlyphs" >INDIA</text>
<text x="676.6" y="457.1" font-size="9.63" font-weight="bold" fill="#4cb7aa" stroke="#4cb7aa" stroke-width="0.50" stroke-linejoin="round" textLength="29.5" lengthAdjust="spacingAndGlyphs" >+64.07</text>
<rect x="604.0" y="467.3" width="11.1" height="14.0" fill="#5ec3b8"/>
<text x="600.6" y="477.9" font-size="9.63" font-weight="bold" fill="#141414" stroke="#141414" stroke-width="0.50" stroke-linejoin="round" text-anchor="end" textLength="26.0" lengthAdjust="spacingAndGlyphs" >CHINA</text>
<text x="618.5" y="477.9" font-size="9.63" font-weight="bold" fill="#8fd3ca" stroke="#8fd3ca" stroke-width="0.50" stroke-linejoin="round" textLength="25.5" lengthAdjust="spacingAndGlyphs" >+10.36</text>
<rect x="604.0" y="488.1" width="7.7" height="14.0" fill="#5ec3b8"/>
<text x="600.6" y="498.7" font-size="9.63" font-weight="bold" fill="#141414" stroke="#141414" stroke-width="0.50" stroke-linejoin="round" text-anchor="end" textLength="16.0" lengthAdjust="spacingAndGlyphs" >UAE</text>
<text x="615.1" y="498.7" font-size="9.63" font-weight="bold" fill="#8fd3ca" stroke="#8fd3ca" stroke-width="0.50" stroke-linejoin="round" textLength="21.0" lengthAdjust="spacingAndGlyphs" >+7.25</text>
<rect x="604.0" y="508.9" width="2.3" height="14.0" fill="#5ec3b8"/>
<text x="600.6" y="519.5" font-size="9.63" font-weight="bold" fill="#141414" stroke="#141414" stroke-width="0.50" stroke-linejoin="round" text-anchor="end" textLength="59.0" lengthAdjust="spacingAndGlyphs" >NETHERLANDS</text>
<text x="609.7" y="519.5" font-size="9.63" font-weight="bold" fill="#8fd3ca" stroke="#8fd3ca" stroke-width="0.50" stroke-linejoin="round" textLength="21.0" lengthAdjust="spacingAndGlyphs" >+2.20</text>
<rect x="599.7" y="529.7" width="4.3" height="14.0" fill="#d0242c"/>
<text x="606.8" y="540.3" font-size="9.63" font-weight="bold" fill="#141414" stroke="#141414" stroke-width="0.50" stroke-linejoin="round" textLength="31.0" lengthAdjust="spacingAndGlyphs" >GREECE</text>
<text x="596.5" y="540.3" font-size="9.63" font-weight="bold" fill="#d8474d" stroke="#d8474d" stroke-width="0.50" stroke-linejoin="round" text-anchor="end" textLength="19.5" lengthAdjust="spacingAndGlyphs" >-4.04</text>
<rect x="594.5" y="550.5" width="9.5" height="14.0" fill="#d0242c"/>
<text x="606.8" y="561.1" font-size="9.63" font-weight="bold" fill="#141414" stroke="#141414" stroke-width="0.50" stroke-linejoin="round" textLength="27.0" lengthAdjust="spacingAndGlyphs" >EGYPT</text>
<text x="591.3" y="561.1" font-size="9.63" font-weight="bold" fill="#d8474d" stroke="#d8474d" stroke-width="0.50" stroke-linejoin="round" text-anchor="end" textLength="19.5" lengthAdjust="spacingAndGlyphs" >-8.87</text>
<rect x="594.3" y="571.3" width="9.7" height="14.0" fill="#d0242c"/>
<text x="606.8" y="581.9" font-size="9.63" font-weight="bold" fill="#141414" stroke="#141414" stroke-width="0.50" stroke-linejoin="round" textLength="41.0" lengthAdjust="spacingAndGlyphs" >GERMANY</text>
<text x="591.1" y="581.9" font-size="9.63" font-weight="bold" fill="#d8474d" stroke="#d8474d" stroke-width="0.50" stroke-linejoin="round" text-anchor="end" textLength="19.5" lengthAdjust="spacingAndGlyphs" >-9.08</text>
<rect x="581.8" y="592.1" width="22.2" height="14.0" fill="#d0242c"/>
<text x="606.8" y="602.7" font-size="9.63" font-weight="bold" fill="#141414" stroke="#141414" stroke-width="0.50" stroke-linejoin="round" textLength="32.0" lengthAdjust="spacingAndGlyphs" >TURKEY</text>
<text x="578.6" y="602.7" font-size="9.63" font-weight="bold" fill="#d8474d" stroke="#d8474d" stroke-width="0.50" stroke-linejoin="round" text-anchor="end" textLength="24.0" lengthAdjust="spacingAndGlyphs" >-20.75</text>
<rect x="581.0" y="612.9" width="23.0" height="14.0" fill="#d0242c"/>
<text x="606.8" y="623.5" font-size="9.63" font-weight="bold" fill="#141414" stroke="#141414" stroke-width="0.50" stroke-linejoin="round" textLength="16.0" lengthAdjust="spacingAndGlyphs" >U.S.</text>
<text x="577.8" y="623.5" font-size="9.63" font-weight="bold" fill="#d8474d" stroke="#d8474d" stroke-width="0.50" stroke-linejoin="round" text-anchor="end" textLength="24.0" lengthAdjust="spacingAndGlyphs" >-21.49</text>
<rect x="496.4" y="633.7" width="107.6" height="14.0" fill="#d0242c"/>
<text x="606.8" y="644.3" font-size="9.63" font-weight="bold" fill="#141414" stroke="#141414" stroke-width="0.50" stroke-linejoin="round" textLength="38.0" lengthAdjust="spacingAndGlyphs" >EU + U.K.</text>
<text x="493.2" y="644.3" font-size="9.63" font-weight="bold" fill="#d8474d" stroke="#d8474d" stroke-width="0.50" stroke-linejoin="round" text-anchor="end" textLength="29.0" lengthAdjust="spacingAndGlyphs" >-100.79</text>
<path d="M604.0 445V655" stroke="#808080" stroke-width="0.8"/>
<path d="M496.5 653v4.6" stroke="#999" stroke-width="0.7"/>
<text x="495.3" y="668.2" font-size="8.40" font-weight="normal" fill="#222" text-anchor="middle" textLength="17.2" lengthAdjust="spacingAndGlyphs" >-100</text>
<path d="M518.0 653v4.6" stroke="#999" stroke-width="0.7"/>
<text x="516.8" y="668.2" font-size="8.40" font-weight="normal" fill="#222" text-anchor="middle" textLength="12.8" lengthAdjust="spacingAndGlyphs" >-80</text>
<path d="M539.5 653v4.6" stroke="#999" stroke-width="0.7"/>
<text x="538.3" y="668.2" font-size="8.40" font-weight="normal" fill="#222" text-anchor="middle" textLength="12.8" lengthAdjust="spacingAndGlyphs" >-60</text>
<path d="M561.0 653v4.6" stroke="#999" stroke-width="0.7"/>
<text x="559.8" y="668.2" font-size="8.40" font-weight="normal" fill="#222" text-anchor="middle" textLength="12.8" lengthAdjust="spacingAndGlyphs" >-40</text>
<path d="M582.5 653v4.6" stroke="#999" stroke-width="0.7"/>
<text x="581.3" y="668.2" font-size="8.40" font-weight="normal" fill="#222" text-anchor="middle" textLength="12.8" lengthAdjust="spacingAndGlyphs" >-20</text>
<path d="M604.0 653v4.6" stroke="#999" stroke-width="0.7"/>
<text x="604.0" y="668.2" font-size="8.40" font-weight="normal" fill="#222" text-anchor="middle" textLength="4.6" lengthAdjust="spacingAndGlyphs" >0</text>
<path d="M625.5 653v4.6" stroke="#999" stroke-width="0.7"/>
<text x="625.5" y="668.2" font-size="8.40" font-weight="normal" fill="#222" text-anchor="middle" textLength="9.2" lengthAdjust="spacingAndGlyphs" >20</text>
<path d="M647.0 653v4.6" stroke="#999" stroke-width="0.7"/>
<text x="647.0" y="668.2" font-size="8.40" font-weight="normal" fill="#222" text-anchor="middle" textLength="9.2" lengthAdjust="spacingAndGlyphs" >40</text>
<path d="M668.5 653v4.6" stroke="#999" stroke-width="0.7"/>
<text x="668.5" y="668.2" font-size="8.40" font-weight="normal" fill="#222" text-anchor="middle" textLength="9.2" lengthAdjust="spacingAndGlyphs" >60</text>
<path d="M690.0 653v4.6" stroke="#999" stroke-width="0.7"/>
<text x="690.0" y="668.2" font-size="8.40" font-weight="normal" fill="#222" text-anchor="middle" textLength="9.2" lengthAdjust="spacingAndGlyphs" >80</text>
<text x="488.4" y="675.8" font-size="6.40" font-weight="normal" fill="#333" textLength="171.5" lengthAdjust="spacingAndGlyphs" >*imports: coal, crude oil, oil products, LNG, pipeline gas</text>
<text x="621.8" y="688.2" font-size="6.60" font-weight="normal" fill="#444" textLength="86.5" lengthAdjust="spacingAndGlyphs" >&#169; 2023 Geopolitical Futures</text>
</g><!--soft-->
</svg>
</body></html>
